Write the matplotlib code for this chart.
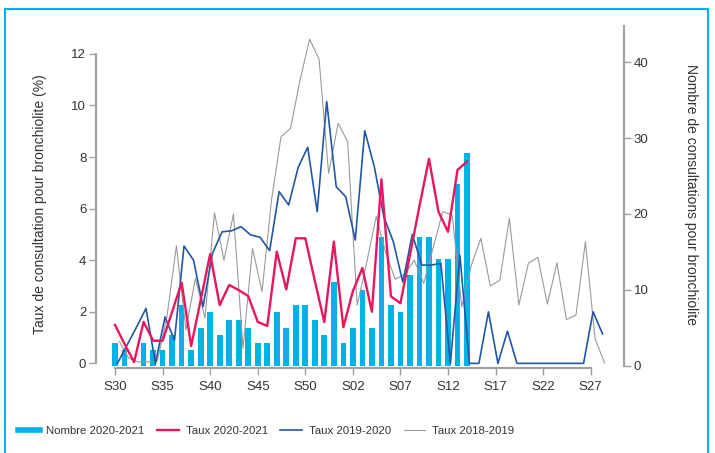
import numpy as np
import matplotlib.pyplot as plt
import matplotlib as mpl
from matplotlib.lines import Line2D
from matplotlib.patches import Rectangle

mpl.rcParams['font.family'] = ['Liberation Sans', 'DejaVu Sans']
mpl.rcParams['font.size'] = 9.5

# semaines S30 (2020) -> S28 (2021), 52 points
week_ticks = [0, 5, 10, 15, 20, 25, 30, 35, 40, 45, 50]
week_labels = ['S30', 'S35', 'S40', 'S45', 'S50', 'S02', 'S07', 'S12', 'S17', 'S22', 'S27']

# Nombre de consultations 2020-2021 (axe droit), S30 -> S14
nombre_2020_2021 = [3, 2, 0, 3, 2, 2, 4, 8, 2, 5, 7, 4, 6, 6, 5, 3, 3, 7, 5, 8,
                    8, 6, 4, 11, 3, 5, 10, 5, 17, 8, 7, 12, 17, 17, 14, 14, 24, 28]

# Taux (%) 2020-2021, S30 -> S14
taux_2020_2021 = [1.49, 0.75, 0.05, 1.61, 0.88, 0.88, 2.0, 3.13, 0.67, 2.45,
                  4.24, 2.26, 3.04, 2.84, 2.61, 1.61, 1.45, 4.33, 2.87, 4.85,
                  4.85, 3.2, 1.6, 4.72, 1.4, 2.8, 3.7, 2.0, 7.14, 2.6,
                  2.33, 4.2, 6.1, 7.93, 5.88, 5.1, 7.5, 7.82]

# Taux (%) 2019-2020
taux_2019_2020 = [0.0, 0.7, 1.4, 2.13, 0.0, 1.8, 0.9, 4.55, 4.0, 2.2,
                  4.27, 5.1, 5.14, 5.3, 4.98, 4.89, 4.37, 6.66, 6.14, 7.6,
                  8.38, 5.88, 10.15, 6.85, 6.46, 4.78, 9.02, 7.63, 5.69, 4.72,
                  3.15, 5.0, 3.81, 3.81, 3.88, 0.0, 4.2, 0.0, 0.0, 2.0,
                  0.0, 1.25, 0.0, 0.0, 0.0, 0.0, 0.0, 0.0, 0.0, 0.0,
                  2.0, 1.14]

# Taux (%) 2018-2019
taux_2018_2019 = [0.85, 0.2, 0.05, 0.05, 0.1, 1.8, 4.55, 1.3, 3.3, 1.75,
                  5.84, 4.0, 5.79, 0.58, 4.46, 2.78, 6.34, 8.79, 9.11, 10.99,
                  12.57, 11.79, 7.37, 9.31, 8.6, 2.26, 3.9, 5.69, 4.3, 3.26,
                  3.45, 4.0, 3.1, 4.5, 5.88, 5.75, 2.2, 3.8, 4.85, 3.0,
                  3.23, 5.62, 2.26, 3.88, 4.11, 2.3, 3.9, 1.7, 1.87, 4.72,
                  0.97, 0.02]

c_bar = '#00b2e8'
c_red = '#e8175d'
c_blue = '#2456a6'
c_gray = '#9a9a9a'
c_axis = '#a0a0a0'
c_text = '#333333'

fig = plt.figure(figsize=(7.15, 4.53), dpi=100)
ax_bar = fig.add_axes([0.1343, 0.1876, 0.8727 - 0.1343, 0.9426 - 0.1876])
ax = ax_bar.twinx()

x_bar = np.arange(len(nombre_2020_2021))
ax_bar.bar(x_bar, nombre_2020_2021, width=0.6, color=c_bar, zorder=1)

ax.plot(np.arange(len(taux_2018_2019)) + 0.45, taux_2018_2019, color=c_gray, lw=0.8)
ax.plot(np.arange(len(taux_2019_2020)) + 0.25, taux_2019_2020, color=c_blue, lw=1.2)
ax.plot(np.arange(len(taux_2020_2021)), taux_2020_2021, color=c_red, lw=1.7)

ax_bar.set_xlim(-2.0, 53.5)
ax_bar.set_ylim(-0.33, 44.8)
ax.set_ylim(-0.18, 13.08)

# axe gauche = taux, axe droit = nombre
ax.yaxis.tick_left()
ax_bar.yaxis.tick_right()
ax.set_yticks(range(0, 13, 2))
ax_bar.set_yticks(range(0, 41, 10))
ax_bar.set_xticks(week_ticks)
ax_bar.set_xticklabels(week_labels)

for a in (ax, ax_bar):
    for s in a.spines.values():
        s.set_visible(False)
    a.tick_params(colors=c_axis, labelcolor=c_text, length=5, width=1, pad=2)
ax.spines['left'].set_visible(True)
ax.spines['left'].set_bounds(0, 12)
ax_bar.spines['right'].set_visible(True)
ax_bar.spines['right'].set_bounds(0, 44.8)
ax_bar.spines['bottom'].set_visible(True)
ax_bar.spines['bottom'].set_bounds(0, 50)
for s in (ax.spines['left'], ax_bar.spines['right'], ax_bar.spines['bottom']):
    s.set_color(c_axis)
    s.set_linewidth(1.5)
ax_bar.tick_params(axis='x', pad=4)
ax.patch.set_visible(False)

fig.text(40 / 715, 1 - 204 / 453, 'Taux de consultation pour bronchiolite (%)',
         rotation=90, ha='center', va='center', color=c_text, fontsize=10)
fig.text(691 / 715, 1 - 195 / 453, 'Nombre de consultations pour bronchiolite',
         rotation=270, ha='center', va='center', color=c_text, fontsize=10)

handles = [Line2D([], [], color=c_bar, lw=4),
           Line2D([], [], color=c_red, lw=1.7),
           Line2D([], [], color=c_blue, lw=1.2),
           Line2D([], [], color=c_gray, lw=0.8)]
names = ['Nombre 2020-2021', 'Taux 2020-2021', 'Taux 2019-2020', 'Taux 2018-2019']
leg = fig.legend(handles, names, loc='center left', bbox_to_anchor=(18 / 715, 1 - 431 / 453),
                 ncol=4, frameon=False, handlelength=1.9, handletextpad=0.6,
                 columnspacing=1.1, borderpad=0, borderaxespad=0, fontsize=8.2)
for t in leg.get_texts():
    t.set_color(c_text)

# cadre bleu
fig.add_artist(Rectangle((5 / 715, -0.1), (708 - 5) / 715, 1 - 9 / 453 + 0.1,
                         transform=fig.transFigure, fill=False,
                         edgecolor='#00b0f0', lw=1.5))

fig.savefig('out.png', dpi=100)
